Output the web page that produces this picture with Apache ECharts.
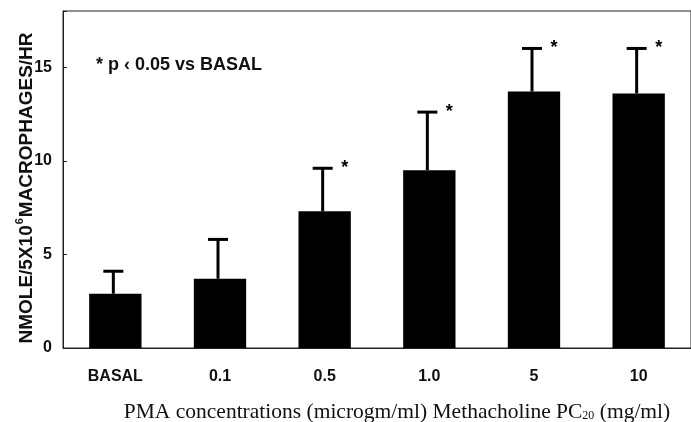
<!DOCTYPE html>
<html>
<head>
  <meta charset="UTF-8">
  <title>PMA macrophages</title>
  <script src="https://cdn.jsdelivr.net/npm/echarts@6/dist/echarts.min.js"></script>
  <style>
    html, body { margin: 0; width: 100%; height: 100%; background: #fff; }
    #chart { width: 691px; height: 422px; }
  </style>
</head>
<body>
  <div id="chart"></div>
  <script>
    // data
    const categories = ['BASAL', '0.1', '0.5', '1.0', '5', '10'];
    const means = [2.9, 3.7, 7.3, 9.5, 13.7, 13.6];
    const upper = [4.1, 5.8, 9.6, 12.6, 16.0, 16.0];   // mean + error
    const significant = [false, false, true, true, true, true];
    const yTicks = [0, 5, 10, 15];

    const ink = '#111';
    const sans = 'Liberation Sans, Arial, sans-serif';

    const errData = categories.map((c, i) => [i, means[i], upper[i], significant[i] ? 1 : 0]);

    const chart = echarts.init(document.getElementById('chart'));
    chart.setOption({
      animation: false,
      grid: {
        left: 63, top: 11, width: 634, height: 337,
        show: true, borderColor: '#222', borderWidth: 1
      },
      xAxis: {
        type: 'category',
        data: categories,
        axisLine: { lineStyle: { color: '#222', width: 1 } },
        axisTick: { show: false },
        axisLabel: { color: ink, fontFamily: sans, fontWeight: 'bold', fontSize: 16, margin: 21 }
      },
      yAxis: {
        type: 'value',
        min: 0, max: 18, interval: 5,
        splitLine: { show: false },
        axisLine: { show: true, lineStyle: { color: '#222', width: 1 } },
        axisTick: { show: true, inside: true, length: 4, lineStyle: { color: '#222' } },
        axisLabel: {
          color: ink, fontFamily: sans, fontWeight: 'bold', fontSize: 16, margin: 11,
          formatter: v => (yTicks.indexOf(v) >= 0 ? String(v) : '')
        }
      },
      series: [
        {
          type: 'bar',
          data: means,
          barWidth: '50%',
          itemStyle: { color: '#000' }
        },
        {
          type: 'custom',
          data: errData,
          z: 3,
          renderItem: function (params, api) {
            const x = api.coord([api.value(0), 0])[0];
            const yBase = api.coord([api.value(0), api.value(1)])[1];
            const yTop = api.coord([api.value(0), api.value(2)])[1];
            const half = 10;
            const children = [
              { type: 'line', shape: { x1: x - 2, y1: yBase, x2: x - 2, y2: yTop },
                style: { stroke: '#000', lineWidth: 3 } },
              { type: 'line', shape: { x1: x - 2 - half, y1: yTop, x2: x - 2 + half, y2: yTop },
                style: { stroke: '#000', lineWidth: 3 } }
            ];
            if (api.value(3)) {
              children.push({
                type: 'text',
                style: {
                  x: x + 20, y: yTop, text: '*', align: 'center', verticalAlign: 'middle',
                  font: 'bold 18px ' + sans, fill: '#000'
                }
              });
            }
            return { type: 'group', children: children };
          }
        }
      ],
      graphic: [
        {
          type: 'text',
          x: 96, y: 65,
          style: {
            text: '* p \u2039 0.05 vs BASAL',
            font: 'bold 18px ' + sans, fill: ink, verticalAlign: 'middle'
          }
        },
        {
          type: 'text',
          x: 25, y: 188, rotation: Math.PI / 2,
          style: {
            text: '{b|NMOLE/5X10}{sup|6}{b|MACROPHAGES/HR}',
            align: 'center', verticalAlign: 'middle', fill: ink,
            rich: {
              b: { font: 'bold 19px ' + sans, fill: ink, verticalAlign: 'bottom' },
              sup: { font: 'bold 11px ' + sans, fill: ink, verticalAlign: 'top', padding: [0, 1, 11, 1] }
            }
          }
        },
        {
          type: 'text',
          x: 397, y: 412,
          style: {
            text: '{t|PMA concentrations (microgm/ml) Methacholine PC}{s|20}{t| (mg/ml)}',
            align: 'center', verticalAlign: 'middle', fill: ink,
            rich: {
              t: { font: '21.5px Liberation Serif, Times New Roman, serif', fill: ink },
              s: { font: '12px Liberation Serif, Times New Roman, serif', fill: ink, padding: [8, 0, 0, 0] }
            }
          }
        }
      ]
    });
  </script>
</body>
</html>
